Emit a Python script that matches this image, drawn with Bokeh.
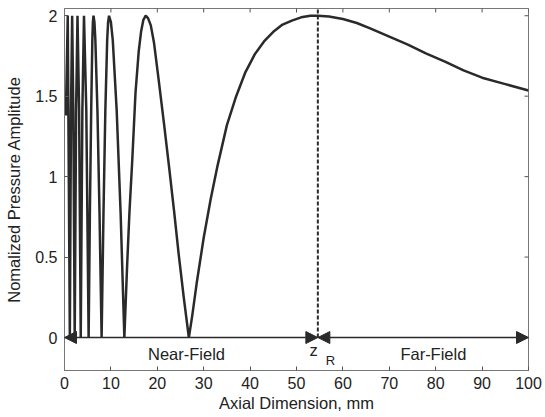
import math
from bokeh.plotting import figure
from bokeh.models import Range1d, FixedTicker, Arrow, NormalHead
from bokeh.core.properties import value
from bokeh.embed import file_html
from bokeh.resources import INLINE

# ---- data ----
axial_mm = [0.3, 0.7, 1.15, 1.4, 1.65, 1.9, 2.2, 2.5, 2.8, 3.15, 3.5, 3.85, 4.2, 4.7, 5.2,
            5.47, 5.75, 6.0, 6.12, 6.25, 6.45, 6.65, 7.1, 7.55, 8.0,
            8.4, 8.8, 9.2, 9.4, 9.6, 10.0, 10.4, 11.25, 12.1, 12.9,
            13.5, 14.0, 14.6, 15.3, 16.0, 16.5, 17.0, 17.5, 18.0, 18.6, 19.3, 20.3, 21.4, 22.5, 23.6, 24.6,
            25.7, 26.8,
            27.5, 28.5, 30.0, 31.5, 33.0, 35.0, 37.0, 39.0, 41.0, 43.0, 45.0, 47.0, 49.0, 51.0, 53.0, 54.6,
            57.0, 60.0, 63.0, 66.0, 70.0, 74.0, 78.0, 82.0, 86.0, 90.0, 95.0, 100.0]
amplitude = [1.38, 2.0, 0.0, 1.41, 2.0, 1.41, 0.0, 1.41, 2.0, 1.41, 0.0, 1.41, 2.0, 1.41, 0.0,
             0.77, 1.41, 1.85, 1.96, 2.0, 1.96, 1.85, 1.41, 0.77, 0.0,
             0.77, 1.41, 1.85, 1.96, 2.0, 1.96, 1.85, 1.41, 0.77, 0.0,
             0.45, 0.78, 1.10, 1.52, 1.78, 1.90, 1.975, 2.0, 1.985, 1.94, 1.83, 1.60, 1.34, 1.07, 0.79, 0.52,
             0.25, 0.0,
             0.13, 0.34, 0.62, 0.86, 1.07, 1.32, 1.50, 1.65, 1.76, 1.84, 1.90, 1.945, 1.97, 1.99, 2.0, 2.0,
             1.995, 1.98, 1.955, 1.92, 1.87, 1.82, 1.765, 1.715, 1.66, 1.615, 1.575, 1.535]

z_R = 54.6
x_ticks = [0, 10, 20, 30, 40, 50, 60, 70, 80, 90, 100]
y_ticks = [0, 0.5, 1, 1.5, 2]
y_tick_labels = ["0", "0.5", "1", "1.5", "2"]
region_labels = ["Near-Field", "Far-Field"]
region_centers = [26.3, 79.5]

FONT = "Liberation Sans"
INK = "#2a2a2a"
X_MIN, X_MAX = 0, 100
Y_MIN, Y_MAX = -0.205, 2.045

p = figure(width=545, height=417, output_backend="svg", toolbar_location=None,
           x_range=Range1d(X_MIN, X_MAX), y_range=Range1d(Y_MIN, Y_MAX),
           min_border_left=64, min_border_right=17, min_border_top=8, min_border_bottom=47)
p.background_fill_color = "white"
p.border_fill_color = "white"
p.outline_line_color = "#777777"
p.xgrid.visible = False
p.ygrid.visible = False

for ax in (p.xaxis[0], p.yaxis[0]):
    ax.major_tick_in = 4
    ax.major_tick_out = 0
    ax.minor_tick_line_color = None
    ax.axis_line_color = "#777777"
    ax.major_tick_line_color = "#555555"
    ax.major_label_text_font = FONT
    ax.major_label_text_font_size = "16px"
    ax.major_label_text_color = "#222222"
    ax.axis_label_text_font = FONT
    ax.axis_label_text_font_size = "16.5px"
    ax.axis_label_text_font_style = "normal"
    ax.axis_label_text_color = "#222222"

p.xaxis[0].ticker = FixedTicker(ticks=x_ticks)
p.yaxis[0].ticker = FixedTicker(ticks=y_ticks)
p.yaxis[0].major_label_overrides = {t: l for t, l in zip(y_ticks, y_tick_labels)}
p.xaxis[0].axis_label = "Axial Dimension, mm"
p.yaxis[0].axis_label = "Nomalized Pressure Amplitude"
p.xaxis[0].major_label_standoff = 6
p.xaxis[0].axis_label_standoff = 2
p.yaxis[0].major_label_standoff = 7
p.yaxis[0].axis_label_standoff = 9

# mirrored inward ticks on top and right edges (dash markers clipped by the frame)
p.scatter(x=x_ticks, y=[Y_MAX] * len(x_ticks), marker="dash", angle=math.pi / 2,
          size=8, line_color="#555555", line_width=1)
p.scatter(x=[X_MAX] * len(y_ticks), y=y_ticks, marker="dash",
          size=8, line_color="#555555", line_width=1)

# curve
p.line(axial_mm, amplitude, line_color=INK, line_width=2.5)

# dashed z_R marker
p.segment(x0=[z_R], y0=[0], x1=[z_R], y1=[Y_MAX], line_color=INK,
          line_width=2, line_dash="4 2")

# region arrows
for xs, xe in ((X_MIN, z_R), (z_R, X_MAX)):
    p.add_layout(Arrow(x_start=xs, y_start=0, x_end=xe, y_end=0,
                       line_color=INK, line_width=1.5,
                       start=NormalHead(size=12, fill_color=INK, line_color=INK),
                       end=NormalHead(size=12, fill_color=INK, line_color=INK)))

p.text(x=region_centers, y=[-0.1, -0.1], text=region_labels, text_font=value(FONT),
       text_font_size="16.5px", text_align="center", text_baseline="middle", text_color="#222222")
p.text(x=[z_R - 0.9], y=[-0.075], text=["z"], text_font=value(FONT), text_font_size="16.5px",
       text_align="center", text_baseline="middle", text_color="#222222")
p.text(x=[z_R + 2.7], y=[-0.143], text=["R"], text_font=value(FONT), text_font_size="13px",
       text_align="center", text_baseline="middle", text_color="#222222")

open("out.html", "w").write(file_html(p, INLINE))
